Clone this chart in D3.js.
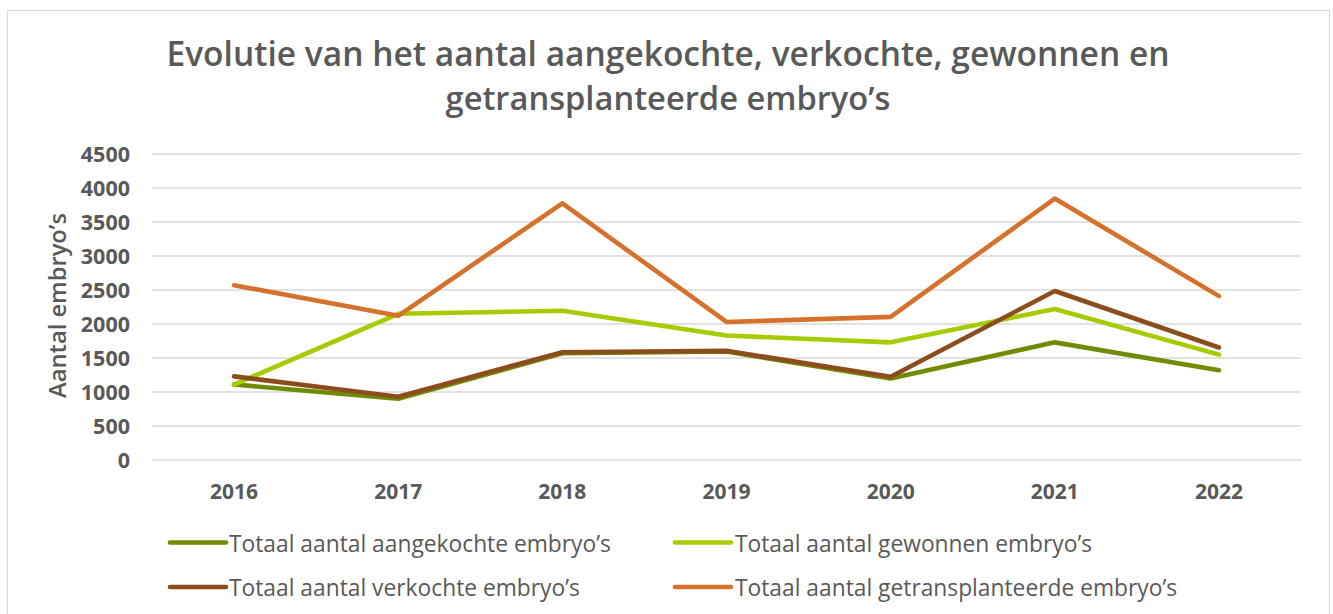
<!DOCTYPE html>
<html>
<head>
<meta charset="utf-8">
<script src="https://cdn.jsdelivr.net/npm/d3@7"></script>
<style>
  html, body { margin: 0; padding: 0; background: #fff; }
  svg { display: block; }
  text { font-family: "Open Sans", "Noto Sans", sans-serif; fill: #595959; }
</style>
</head>
<body>
<svg id="chart" width="1333" height="614"></svg>
<script>
const titleLines = ["Evolutie van het aantal aangekochte, verkochte, gewonnen en", "getransplanteerde embryo’s"];
const yAxisTitle = "Aantal embryo’s";
const years = ["2016", "2017", "2018", "2019", "2020", "2021", "2022"];
const yTicks = [0, 500, 1000, 1500, 2000, 2500, 3000, 3500, 4000, 4500];

const seriesNames = [
  "Totaal aantal aangekochte embryo’s",
  "Totaal aantal gewonnen embryo’s",
  "Totaal aantal verkochte embryo’s",
  "Totaal aantal getransplanteerde embryo’s"
];
const aangekochte = [1110, 900, 1570, 1595, 1200, 1730, 1320];
const gewonnen = [1110, 2150, 2195, 1830, 1730, 2220, 1550];
const verkochte = [1230, 930, 1585, 1605, 1225, 2485, 1655];
const getransplanteerde = [2570, 2120, 3775, 2030, 2105, 3845, 2410];
const seriesColors = ["#6f8c00", "#a4cc00", "#8c4d1d", "#d5712b"];

const seriesValues = [aangekochte, gewonnen, verkochte, getransplanteerde];
const series = seriesNames.map((name, i) => ({ name, color: seriesColors[i], values: seriesValues[i] }));

const svg = d3.select("#chart");

// outer border
svg.append("rect").attr("x", 7.5).attr("y", 10.5).attr("width", 1322).attr("height", 620)
  .attr("fill", "#fff").attr("stroke", "#d9d9d9").attr("stroke-width", 1.2);

const x = d3.scaleBand().domain(years).range([152, 1301]);
const y = d3.scaleLinear().domain([0, 4500]).range([460, 154]);

function fitWidth(sel, target) {
  const node = sel.node();
  const fs = parseFloat(sel.attr("font-size"));
  const w = node.getComputedTextLength();
  sel.attr("font-size", (fs * target / w).toFixed(2));
}

// title
const titleTargets = [1003, 445];
const titleBaselines = [65.5, 110];
titleLines.forEach((t, i) => {
  const tx = svg.append("text").attr("x", 668).attr("y", titleBaselines[i])
    .attr("text-anchor", "middle").attr("font-size", 33).attr("font-weight", 600).text(t);
  fitWidth(tx, titleTargets[i]);
});

// gridlines
svg.append("g").selectAll("line").data(yTicks).join("line")
  .attr("x1", 152).attr("x2", 1301)
  .attr("y1", d => y(d)).attr("y2", d => y(d))
  .attr("stroke", "#d9d9d9").attr("stroke-width", 1.3);

// y axis
const yAxis = svg.append("g").attr("transform", "translate(130,0)")
  .call(d3.axisLeft(y).tickValues(yTicks).tickSize(0).tickPadding(0).tickFormat(d3.format("d")));
yAxis.select(".domain").remove();
yAxis.selectAll("text").attr("font-size", 21.5).attr("font-weight", 700)
  .attr("font-family", "'Open Sans', sans-serif").attr("fill", "#595959").attr("dy", "0.36em");

// x axis
const xAxis = svg.append("g").attr("transform", "translate(0,460)")
  .call(d3.axisBottom(x).tickSize(0).tickPadding(0));
xAxis.select(".domain").remove();
xAxis.selectAll("text").attr("font-size", 21).attr("font-weight", 700)
  .attr("font-family", "'Open Sans', sans-serif").attr("fill", "#595959")
  .attr("y", 38.5).attr("dy", 0);

// y axis title
const yt = svg.append("text").attr("transform", "translate(66,305.5) rotate(-90)")
  .attr("text-anchor", "middle").attr("font-size", 22).attr("font-weight", 600).text(yAxisTitle);
fitWidth(yt, 185);

// lines
const line = d3.line().x((d, i) => x(years[i]) + x.bandwidth() / 2).y(d => y(d));
svg.append("g").selectAll("path").data(series).join("path")
  .attr("d", d => line(d.values))
  .attr("fill", "none").attr("stroke", d => d.color)
  .attr("stroke-width", 4.6).attr("stroke-linejoin", "round").attr("stroke-linecap", "round");

// legend
const legendPos = [
  { mx: 170, tx: 229, by: 551.5 },
  { mx: 675, tx: 735, by: 551.5 },
  { mx: 170, tx: 229, by: 596 },
  { mx: 675, tx: 735, by: 596 }
];
const lg = svg.append("g");
series.forEach((s, i) => {
  const p = legendPos[i];
  lg.append("line").attr("x1", p.mx).attr("x2", p.mx + 56)
    .attr("y1", p.by - 9).attr("y2", p.by - 9)
    .attr("stroke", s.color).attr("stroke-width", 4.6).attr("stroke-linecap", "round");
  lg.append("text").attr("x", p.tx).attr("y", p.by).attr("font-size", 21).attr("font-weight", 500).text(s.name);
});
const firstLegend = lg.select("text");
const w0 = firstLegend.node().getComputedTextLength();
const legFs = (21 * 382 / w0).toFixed(2);
lg.selectAll("text").attr("font-size", legFs);
</script>
</body>
</html>
